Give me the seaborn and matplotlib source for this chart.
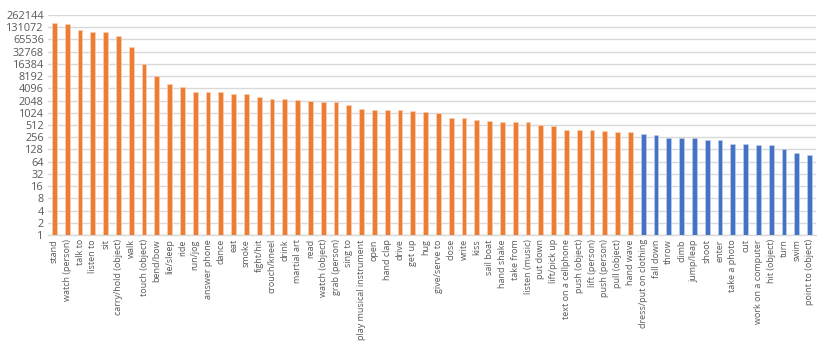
import numpy as np
import pandas as pd
import seaborn as sns
import matplotlib
matplotlib.use("Agg")
import matplotlib.pyplot as plt
from matplotlib.ticker import FixedLocator, FixedFormatter

# action classes, sorted by count
actions = [
    "stand", "watch (person)", "talk to", "listen to", "sit", "carry/hold (object)",
    "walk", "touch (object)", "bend/bow", "lie/sleep", "ride", "run/jog",
    "answer phone", "dance", "eat", "smoke", "fight/hit", "crouch/kneel",
    "drink", "martial art", "read", "watch (object)", "grab (person)", "sing to",
    "play musical instrument", "open", "hand clap", "drive", "get up", "hug",
    "give/serve to", "close", "write", "kiss", "sail boat", "hand shake",
    "take from", "listen (music)", "put down", "lift/pick up", "text on a cellphone",
    "push (object)", "lift (person)", "push (person)", "pull (object)", "hand wave",
    "dress/put on clothing", "fall down", "throw", "climb", "jump/leap", "shoot",
    "enter", "take a photo", "cut", "work on a computer", "hit (object)", "turn",
    "swim", "point to (object)",
]
counts = [
    169000, 160000, 110000, 102000, 100000, 80000,
    42000, 16300, 8100, 5100, 4500, 3300,
    3300, 3300, 2900, 2900, 2550, 2240,
    2240, 2100, 2000, 1860, 1860, 1570,
    1270, 1200, 1200, 1200, 1110, 1050,
    1000, 762, 762, 680, 630, 596,
    596, 596, 521, 492, 379,
    379, 379, 357, 337, 337,
    313, 296, 245, 245, 245, 215,
    215, 178, 178, 165, 165, 129,
    107, 94,
]
groups = ["head"] * 46 + ["tail"] * 14
yticks = [2 ** k for k in range(19)]

df = pd.DataFrame({"action": actions, "count": counts, "group": groups})

sns.set_style("white")
plt.rcParams["font.family"] = ["Open Sans", "DejaVu Sans"]

fig = plt.figure(figsize=(8.3, 3.48), dpi=100)
ax = fig.add_axes([48 / 830, 1 - 235 / 348, 768 / 830, 220 / 348])

sns.barplot(data=df, x="action", y="count", hue="group",
            palette={"head": "#ED7D31", "tail": "#4472C4"},
            saturation=1, dodge=False, width=0.36, legend=False, ax=ax,
            linewidth=0.4, zorder=3)
for bar, g in zip(ax.patches, groups):
    bar.set_edgecolor("#F9D5C0" if g == "head" else "#C5D3EE")

ax.set_yscale("log", base=2)
ax.set_ylim(1, 262144)
ax.set_xlim(-0.5, len(actions) - 0.5)
ax.yaxis.set_major_locator(FixedLocator(yticks))
ax.yaxis.set_major_formatter(FixedFormatter([str(v) for v in yticks]))
ax.yaxis.set_minor_locator(FixedLocator([]))
ax.grid(axis="y", color="#D9D9D9", linewidth=1, zorder=0)
ax.set_axisbelow(True)

for s in ["top", "right", "left"]:
    ax.spines[s].set_visible(False)
ax.spines["bottom"].set_color("#D9D9D9")
ax.spines["bottom"].set_linewidth(1)

ax.tick_params(axis="y", length=0, pad=3, labelsize=7.8, labelcolor="#595959")
ax.tick_params(axis="x", length=0, pad=3, labelsize=6.5, labelcolor="#595959")
plt.setp(ax.get_xticklabels(), rotation=90, ha="center", va="top")
ax.set_xlabel("")
ax.set_ylabel("")

fig.savefig("out.png", dpi=100)
